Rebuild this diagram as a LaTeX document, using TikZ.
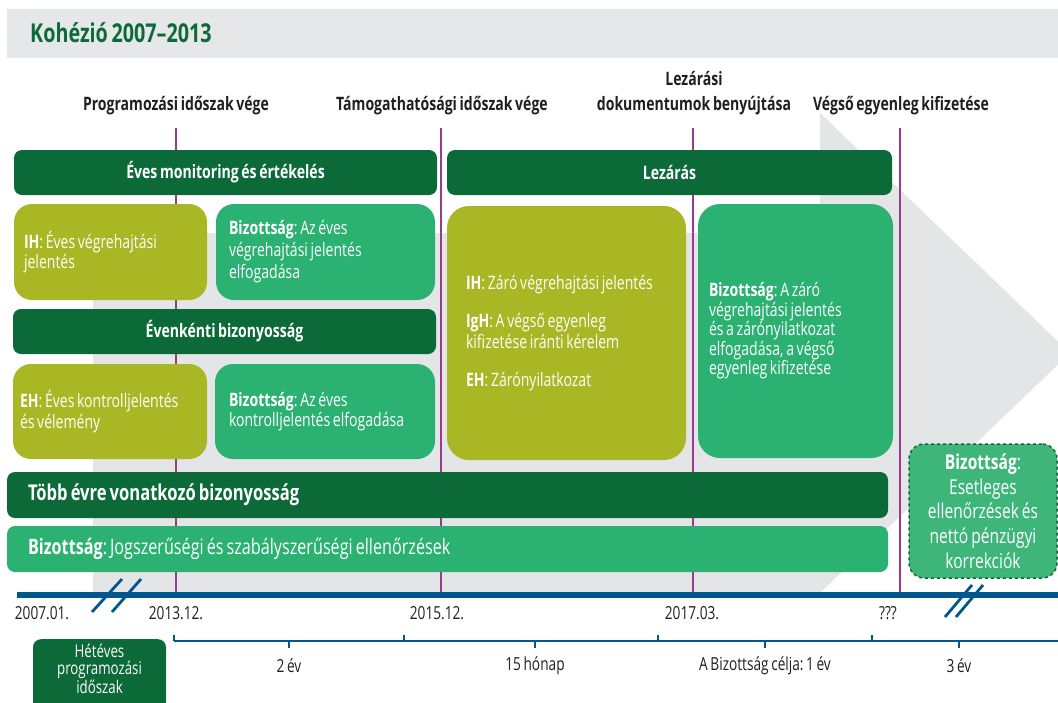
\documentclass[tikz,border=0pt]{standalone}
\usepackage{fontspec}
\setmainfont[FakeStretch=0.76,WordSpace=0.72]{Open Sans}
\definecolor{dkgreen}{RGB}{12,106,57}
\definecolor{olivec}{RGB}{168,183,35}
\definecolor{midgreen}{RGB}{43,177,113}
\definecolor{dashgreen}{RGB}{62,182,122}
\definecolor{lightgrey}{RGB}{228,229,231}
\definecolor{titlegrey}{RGB}{230,231,232}
\definecolor{purp}{RGB}{154,58,138}
\definecolor{tlblue}{RGB}{0,87,142}
\definecolor{txt}{RGB}{35,31,32}
\newcommand\mynatsp{\spaceskip=0pt\relax\xspaceskip=0pt\relax}
\tikzset{
  natspace/.style={execute at begin node=\mynatsp},
  bar/.style={fill=dkgreen, rounded corners=8pt, text=white, inner sep=0pt, natspace, font=\bfseries\fontsize{18.5}{21}\selectfont},
  card/.style={rounded corners=18pt, text=white, inner sep=0pt, align=left, natspace, font=\fontsize{18.5}{20.5}\selectfont},
  olivecard/.style={card, fill=olivec},
  greencard/.style={card, fill=midgreen},
  toplabel/.style={font=\bfseries\fontsize{18.5}{25}\selectfont, text=txt, align=center, inner sep=0pt},
  datelabel/.style={font=\fontsize{18}{20}\selectfont, text=txt, inner sep=0pt},
  vline/.style={purp, line width=2.6pt},
  brk/.style={tlblue, line width=2.8pt},
  bracket/.style={tlblue, line width=1.3pt},
}
\begin{document}
\hyphenpenalty=10000
\frenchspacing
\begin{tikzpicture}[x=1pt,y=-1pt]
\useasboundingbox (0,0) rectangle (1058,702);
\clip (0,0) rectangle (1058,702);
% title bar
\fill[titlegrey] (7,9) rectangle (1058,58);
\node[anchor=west, inner sep=0pt, text=dkgreen, font=\bfseries\fontsize{26}{28}\selectfont] (title) at (30,33) {Kohézió 2007–2013};
% grey arrow
\fill[lightgrey] (93,233) -- (820,233) -- (820,113) -- (1070,353) -- (820,593) -- (820,595) -- (93,595) -- cycle;
% top labels
\node[toplabel] (l1) at (176,106) {Programozási időszak vége};
\node[toplabel] (l2) at (442,106) {Támogathatósági időszak vége};
\node[toplabel] (l3) at (694,93.5) {Lezárási\\dokumentumok benyújtása};
\node[toplabel] (l4) at (901,106) {Végső egyenleg kifizetése};
% purple lines
\coordinate (p1t) at (176,128); \coordinate (p1b) at (176,593);
\coordinate (p2t) at (441,128); \coordinate (p2b) at (441,593);
\coordinate (p3t) at (693,128); \coordinate (p3b) at (693,593);
\coordinate (p4t) at (900,128); \coordinate (p4b) at (900,593);
\draw[vline] (p1t) -- (p1b);
\draw[vline] (p2t) -- (p2b);
\draw[vline] (p3t) -- (p3b);
\draw[vline] (p4t) -- (p4b);
% bars
\node[bar, minimum width=423, minimum height=45] (mon) at (225.5,172.5) {Éves monitoring és értékelés};
\node[bar, minimum width=445, minimum height=45] (lez) at (669.5,172.5) {Lezárás};
\node[bar, minimum width=423, minimum height=45] (eveb) at (224.5,331.5) {Évenkénti bizonyosság};
\node[bar, minimum width=881, minimum height=46, align=left, text width=839, font=\bfseries\fontsize{21.8}{24}\selectfont] (tobb) at (447.5,495) {Több évre vonatkozó bizonyosság};
\node[bar, fill=midgreen, font=\fontsize{21.3}{24}\selectfont, minimum width=881, minimum height=46, align=left, text width=839] (jog) at (447.5,549) {\textbf{Bizottság}: Jogszerűségi és szabályszerűségi ellenőrzések};
% cards
\node[olivecard, minimum width=193, minimum height=96, text width=173] (ih) at (110.5,252) {\textbf{IH}: Éves végrehajtási\\jelentés};
\node[greencard, font=\fontsize{18.5}{22}\selectfont, minimum width=219, minimum height=96, text width=193] (biz1) at (325.5,252) {\textbf{Bizottság}: Az éves\\végrehajtási jelentés\\elfogadása};
\node[olivecard, minimum width=194, minimum height=95, text width=180] (eh) at (110,411.5) {\textbf{EH}: Éves kontrolljelentés\\és vélemény};
\node[greencard, minimum width=220, minimum height=95, text width=192] (biz2) at (325,411.5) {\textbf{Bizottság}: Az éves\\kontrolljelentés elfogadása};
\node[olivecard, rounded corners=22pt, minimum width=239, minimum height=254, text width=201] (zaro) at (566.5,333) {\textbf{IH}: Záró végrehajtási jelentés\\[18pt]\textbf{IgH}: A végső egyenleg\\kifizetése iránti kérelem\\[18pt]\textbf{EH}: Zárónyilatkozat};
\node[greencard, font=\fontsize{18.5}{19.5}\selectfont, rounded corners=22pt, minimum width=195, minimum height=254, text width=173] (biz3) at (795.5,331) {\textbf{Bizottság}: A záró\\végrehajtási jelentés\\és a zárónyilatkozat\\elfogadása, a végső\\egyenleg kifizetése\\[20pt]};
% dashed box
\node[fill=dashgreen, draw=dkgreen, dashed, line width=1.5pt, rounded corners=15pt, minimum width=148, minimum height=134, inner sep=0pt, text=white, align=center, font=\fontsize{20.5}{24.7}\selectfont] (korr) at (983,511) {\textbf{Bizottság}:\\Esetleges\\ellenőrzések és\\nettó pénzügyi\\korrekciók};
% timeline
\coordinate (t0) at (17,595); \coordinate (t1) at (1058,595);
\draw[tlblue, line width=6pt] (t0) -- (t1);
\coordinate (s1a) at (92,612); \coordinate (s1b) at (122,579);
\coordinate (s2a) at (112,612); \coordinate (s2b) at (141,579);
\coordinate (s3a) at (945,617); \coordinate (s3b) at (972,585);
\coordinate (s4a) at (956,617); \coordinate (s4b) at (983,585);
\draw[brk] (s1a) -- (s1b);
\draw[brk] (s2a) -- (s2b);
\draw[brk] (s3a) -- (s3b);
\draw[brk] (s4a) -- (s4b);
% dates
\node[datelabel] (d1) at (42,613) {2007.01.};
\node[datelabel] (d2) at (176,613) {2013.12.};
\node[datelabel] (d3) at (437,613) {2015.12.};
\node[datelabel] (d4) at (692,613) {2017.03.};
\node[datelabel] (d5) at (888,613) {???};
% bracket
\coordinate (b0) at (174,641); \coordinate (b1) at (1058,641);
\draw[bracket] (b0) -- (b1);
\foreach \x in {174,404,658,872} \draw[bracket] (\x,641) -- (\x,635);
\foreach \x in {289,535,765,959} \draw[bracket] (\x,641) -- (\x,648);
\node[datelabel] (e1) at (289,666) {2 év};
\node[datelabel] (e2) at (535,666) {15 hónap};
\node[datelabel] (e3) at (765,666) {A Bizottság célja: 1 év};
\node[datelabel] (e4) at (959,666) {3 év};
% seven-year box
\node[bar, minimum width=133, minimum height=80, anchor=north] (hetev) at (99.5,639) {};
\node[inner sep=0pt, text=white, align=center, font=\fontsize{17.5}{17}\selectfont] (hetevt) at (99.5,669) {Hétéves\\programozási\\időszak};
\end{tikzpicture}
\end{document}
